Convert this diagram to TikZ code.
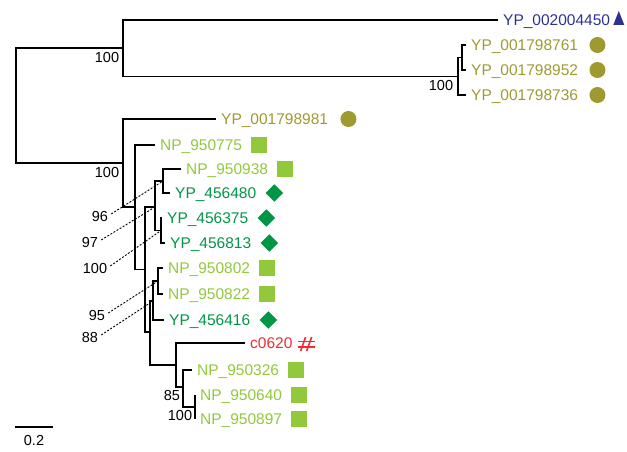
\documentclass[tikz,border=0pt]{standalone}
\usepackage{fontspec}
\setmainfont{Liberation Sans}
\usetikzlibrary{shapes.geometric,positioning,calc}

\definecolor{tblue}{RGB}{46,49,146}
\definecolor{tolive}{RGB}{158,154,48}
\definecolor{tlgreen}{RGB}{146,200,60}
\definecolor{tdgreen}{RGB}{0,150,70}
\definecolor{tred}{RGB}{237,45,50}

\begin{document}
\begin{tikzpicture}[x=1pt,y=-1pt,
  branch/.style={line width=1.5pt},
  support line/.style={line width=0.9pt, dash pattern=on 2pt off 1.6pt},
  leaf/.style={anchor=west, inner xsep=5pt, inner ysep=0pt, text height=11pt,
    text depth=0pt, font=\fontsize{15.5}{18}\selectfont},
  support/.style={inner sep=0pt, font=\fontsize{14.5}{17}\selectfont},
  sqmark/.style={rectangle, minimum size=16pt, inner sep=0pt, fill=tlgreen},
  dmmark/.style={diamond, aspect=1, minimum width=17.5pt, minimum height=17.5pt,
    inner sep=0pt, fill=tdgreen},
  cmark/.style={circle, minimum size=16pt, inner sep=0pt, fill=tolive}]

\useasboundingbox (0,0) rectangle (627,452);

% ---- leaves ----
\node[leaf, text=tblue]   (L1)  at (498,20)  {YP\_002004450};
\node[leaf, text=tolive]  (L2)  at (466,45)  {YP\_001798761};
\node[leaf, text=tolive]  (L3)  at (466,70)  {YP\_001798952};
\node[leaf, text=tolive]  (L4)  at (466,95)  {YP\_001798736};
\node[leaf, text=tolive]  (L5)  at (216,119) {YP\_001798981};
\node[leaf, text=tlgreen] (L6)  at (155,145) {NP\_950775};
\node[leaf, text=tlgreen] (L7)  at (181,169) {NP\_950938};
\node[leaf, text=tdgreen] (L8)  at (170,193) {YP\_456480};
\node[leaf, text=tdgreen] (L9)  at (162,218) {YP\_456375};
\node[leaf, text=tdgreen] (L10) at (165,243) {YP\_456813};
\node[leaf, text=tlgreen] (L11) at (163,268) {NP\_950802};
\node[leaf, text=tlgreen] (L12) at (163,294) {NP\_950822};
\node[leaf, text=tdgreen] (L13) at (164,320) {YP\_456416};
\node[leaf, text=tred]    (L14) at (245,343) {c0620};
\node[leaf, text=tlgreen] (L15) at (192,370) {NP\_950326};
\node[leaf, text=tlgreen] (L16) at (195,395) {NP\_950640};
\node[leaf, text=tlgreen] (L17) at (195,419) {NP\_950897};

% ---- markers ----
\fill[tblue] ($(L1.east)+(-2,5)$) -- ($(L1.east)+(9,5)$) -- ($(L1.east)+(3.5,-9)$) -- cycle;
\node[cmark,  right=6pt of L2]  (m2)  {};
\node[cmark,  right=6pt of L3]  (m3)  {};
\node[cmark,  right=6pt of L4]  (m4)  {};
\node[cmark,  right=7pt of L5]  (m5)  {};
\node[sqmark, right=4pt of L6]  (m6)  {};
\node[sqmark, right=4pt of L7]  (m7)  {};
\node[dmmark, right=4pt of L8]  (m8)  {};
\node[dmmark, right=4pt of L9]  (m9)  {};
\node[dmmark, right=4pt of L10] (m10) {};
\node[sqmark, right=4pt of L11] (m11) {};
\node[sqmark, right=4pt of L12] (m12) {};
\node[dmmark, right=4pt of L13] (m13) {};
\node[sqmark, right=4pt of L15] (m15) {};
\node[sqmark, right=4pt of L16] (m16) {};
\node[sqmark, right=4pt of L17] (m17) {};
% hash sign after c0620
\begin{scope}[tred, line width=1.6pt]
  \draw ($(L14.east)+(0,-1.5)$) -- ++(17,0);
  \draw ($(L14.east)+(0,4)$) -- ++(17,0);
  \draw ($(L14.east)+(3,8)$) -- ($(L14.east)+(8,-6)$);
  \draw ($(L14.east)+(9,8)$) -- ($(L14.east)+(14,-6)$);
\end{scope}

% ---- internal nodes ----
\coordinate (R)  at (16,105.5);
\coordinate (P)  at (123,48);
\coordinate (P2) at (458,76.5);
\coordinate (P3) at (462,57.5);
\coordinate (Q)  at (123,163);
\coordinate (B)  at (135,207);
\coordinate (C)  at (145,269.5);
\coordinate (D)  at (155,207);
\coordinate (E)  at (163,181);
\coordinate (F)  at (161,230.5);
\coordinate (G)  at (150,332);
\coordinate (H)  at (153,301);
\coordinate (I)  at (158,281);
\coordinate (J)  at (176,365);
\coordinate (K)  at (183,387);
\coordinate (Lx) at (195,407);

% ---- branches ----
\draw[branch] (P) -| (R) |- (Q);
\draw[branch] (L1.west) -| (P) |- (P2);
\draw[branch] (P3) -| (P2) |- (L4.west);
\draw[branch] (L2.west) -| (P3) |- (L3.west);
\draw[branch] (L5.west) -| (Q) |- (B);
\draw[branch] (L6.west) -| (B) |- (C);
\draw[branch] (D) -| (C) |- (G);
\draw[branch] (E) -| (D) |- (F);
\draw[branch] (L7.west) -| (E) |- (L8.west);
\draw[branch] (L9.west) -| (F) |- (L10.west);
\draw[branch] (H) -| (G) |- (J);
\draw[branch] (I) -| (H) |- (L13.west);
\draw[branch] (L11.west) -| (I) |- (L12.west);
\draw[branch] (L14.west) -| (J) |- (K);
\draw[branch] (L15.west) -| (K) |- (Lx);
\draw[branch] (L16.west) -| (Lx) |- (L17.west);

% ---- support values ----
\node[support] (s1)  at (107,58)  {100};
\node[support] (s2)  at (441,86)  {100};
\node[support] (s3)  at (107,173) {100};
\node[support] (s4)  at (100,217) {96};
\node[support] (s5)  at (90,243)  {97};
\node[support] (s6)  at (95,269)  {100};
\node[support] (s7)  at (97,316)  {95};
\node[support] (s8)  at (90,338)  {88};
\node[support] (s9)  at (172,396) {85};
\node[support] (s10) at (180,416) {100};

\draw[support line] ([xshift=3pt,yshift=3pt]s4.east) -- (E);
\draw[support line] ([xshift=3pt,yshift=3pt]s5.east) -- (D);
\draw[support line] ([xshift=3pt,yshift=3pt]s6.east) -- (F);
\draw[support line] ([xshift=3pt,yshift=3pt]s7.east) -- (I);
\draw[support line] ([xshift=3pt,yshift=3pt]s8.east) -- (H);

% ---- scale bar ----
\coordinate (sb1) at (15,427);
\coordinate (sb2) at (53,427);
\draw[branch] (sb1) -- (sb2);
\node[support] (sbl) at (34,441) {0.2};
\end{tikzpicture}
\end{document}
